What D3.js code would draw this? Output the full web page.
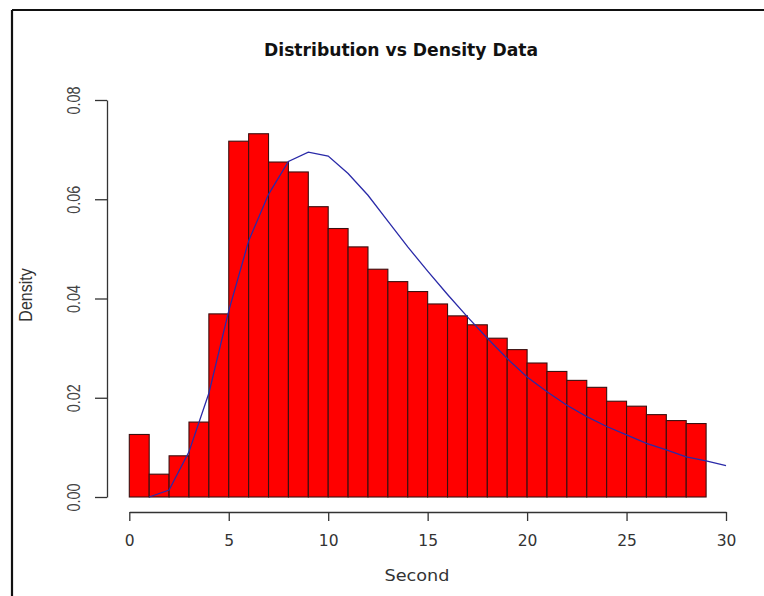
<!DOCTYPE html>
<html>
<head>
<meta charset="utf-8">
<script src="https://cdn.jsdelivr.net/npm/d3@7"></script>
<style>
  html, body { margin: 0; padding: 0; background: #fff; }
  svg { display: block; }
</style>
</head>
<body>
<script>
// ---- data ----
const binStarts = d3.range(0, 29);          // bins of width 1: [0,1) ... [28,29)
const binWidth = 1;
const densityValues = [0.0126, 0.0046, 0.0083, 0.0151, 0.0369, 0.0717, 0.0732, 0.0675, 0.0655, 0.0585,
                       0.0541, 0.0504, 0.0459, 0.0434, 0.0414, 0.0389, 0.0365, 0.0347, 0.0320, 0.0297,
                       0.0270, 0.0253, 0.0235, 0.0221, 0.0193, 0.0183, 0.0166, 0.0154, 0.0148];
const curveX = d3.range(1, 31);
const curveY = [0, 0.0014, 0.0091, 0.0209, 0.0375, 0.0516, 0.0610, 0.0676, 0.0695, 0.0687,
                0.0652, 0.0608, 0.0556, 0.0504, 0.0455, 0.0408, 0.0363, 0.0320, 0.0279, 0.0242,
                0.0212, 0.0185, 0.0162, 0.0142, 0.0125, 0.0108, 0.0095, 0.0081, 0.0073, 0.0063];
const xTicks = [0, 5, 10, 15, 20, 25, 30];
const yTicks = [0.00, 0.02, 0.04, 0.06, 0.08];
const title = "Distribution vs Density Data";
const xLabel = "Second";
const yLabel = "Density";

// ---- chart ----
const W = 764, H = 596;
const svg = d3.select("body").append("svg").attr("width", W).attr("height", H);

const x = d3.scaleLinear().domain([0, 30]).range([129.3, 726]);
const y = d3.scaleLinear().domain([0, 0.08]).range([497, 100]);

// outer frame (left & top)
svg.append("line").attr("x1", 12).attr("y1", 10).attr("x2", W).attr("y2", 10)
  .attr("stroke", "#111").attr("stroke-width", 2.2);
svg.append("line").attr("x1", 12).attr("y1", 10).attr("x2", 12).attr("y2", H)
  .attr("stroke", "#111").attr("stroke-width", 2.2);

// bars
svg.append("g").selectAll("rect")
  .data(binStarts.map((s, i) => ({ s, v: densityValues[i] })))
  .join("rect")
  .attr("x", d => x(d.s))
  .attr("y", d => y(d.v))
  .attr("width", d => x(d.s + binWidth) - x(d.s))
  .attr("height", d => y(0) - y(d.v))
  .attr("fill", "#ff0000")
  .attr("stroke", "#3a1010")
  .attr("stroke-width", 1.1);

// density curve
const line = d3.line().x(d => x(d[0])).y(d => y(d[1]));
svg.append("path")
  .datum(curveX.map((v, i) => [v, curveY[i]]))
  .attr("d", line)
  .attr("fill", "none")
  .attr("stroke", "#2a2aa8")
  .attr("stroke-width", 1.3);

// x axis
const xAxis = d3.axisBottom(x).tickValues(xTicks).tickSize(9).tickSizeOuter(0).tickPadding(14)
  .tickFormat(d3.format("d"));
const gx = svg.append("g").attr("transform", "translate(0,512)").call(xAxis);
gx.select(".domain").attr("stroke", "#333").attr("stroke-width", 1.3);
gx.selectAll(".tick line").attr("stroke", "#333").attr("stroke-width", 1.3);
gx.selectAll(".tick text").attr("font-family", "DejaVu Sans, sans-serif").attr("font-size", 15.5)
  .attr("fill", "#333");

// y axis
const yAxis = d3.axisLeft(y).tickValues(yTicks).tickSize(12).tickSizeOuter(0).tickFormat(d3.format(".2f"));
const gy = svg.append("g").attr("transform", "translate(107,0)").call(yAxis);
gy.select(".domain").attr("stroke", "#333").attr("stroke-width", 1.3);
gy.selectAll(".tick line").attr("stroke", "#333").attr("stroke-width", 1.3);
gy.selectAll(".tick text").remove();
gy.selectAll(".tick").append("text")
  .attr("transform", "translate(-27,0) scale(1.25,1) rotate(-90)")
  .attr("text-anchor", "middle")
  .attr("font-family", "Liberation Sans, Arial, sans-serif")
  .attr("font-size", 14.4)
  .attr("fill", "#444")
  .text(d => d3.format(".2f")(d));

// title
svg.append("text")
  .attr("x", 401).attr("y", 56)
  .attr("text-anchor", "middle")
  .attr("font-family", "DejaVu Sans, sans-serif")
  .attr("font-weight", "bold")
  .attr("font-size", 17)
  .attr("textLength", 274)
  .attr("lengthAdjust", "spacingAndGlyphs")
  .attr("fill", "#111")
  .text(title);

// x label
svg.append("text")
  .attr("x", 417).attr("y", 581)
  .attr("text-anchor", "middle")
  .attr("font-family", "DejaVu Sans, sans-serif")
  .attr("font-size", 16)
  .attr("textLength", 65)
  .attr("lengthAdjust", "spacingAndGlyphs")
  .attr("fill", "#333")
  .text(xLabel);

// y label
svg.append("text")
  .attr("transform", "translate(31.5,295) scale(1.15,1) rotate(-90)")
  .attr("text-anchor", "middle")
  .attr("font-family", "Liberation Sans, Arial, sans-serif")
  .attr("font-size", 16)
  .attr("fill", "#333")
  .text(yLabel);
</script>
</body>
</html>
